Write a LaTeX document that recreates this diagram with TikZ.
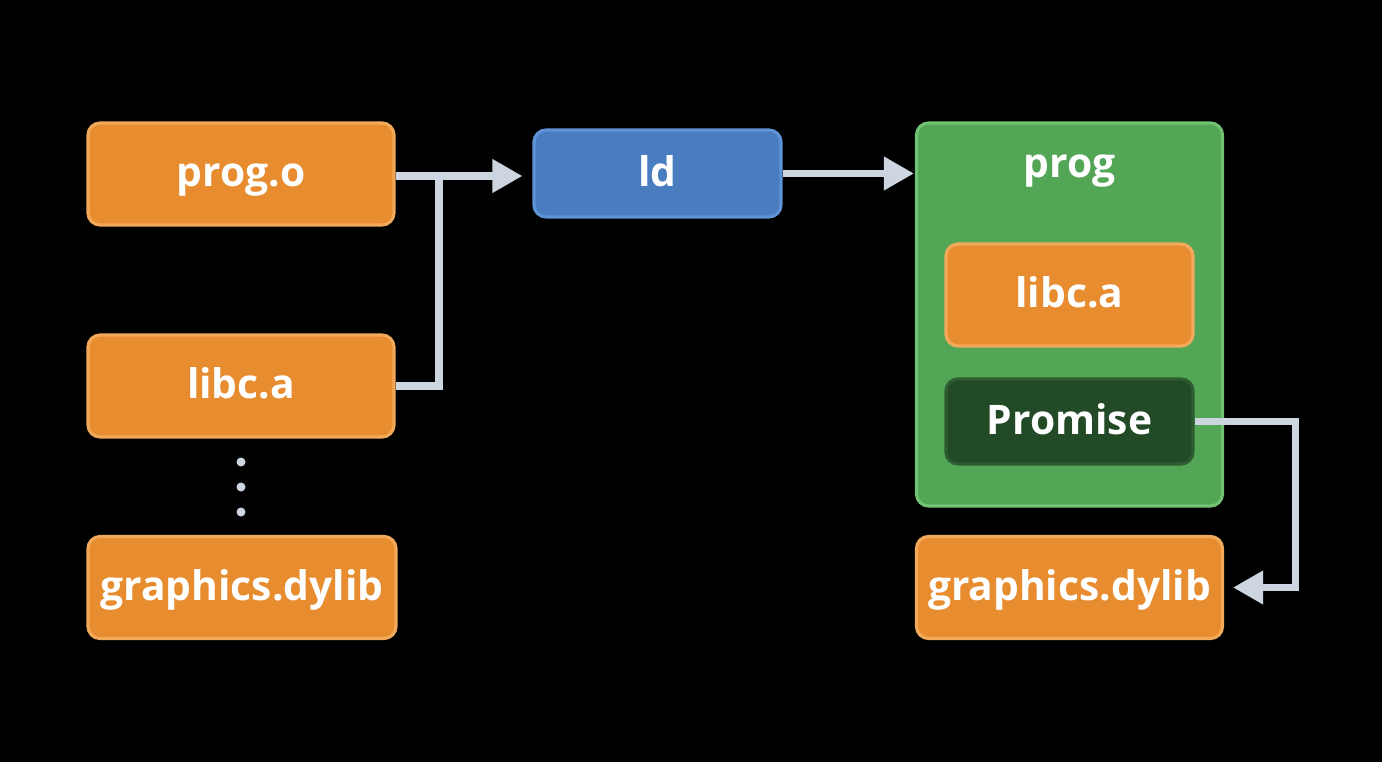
\documentclass[tikz,border=0pt]{standalone}
\usepackage{fontspec}
\setmainfont{Open Sans}
\usepackage{xcolor}
\usepackage{tikz}
\usetikzlibrary{calc, positioning, arrows.meta}

\definecolor{boxorange}{HTML}{E88C30}
\definecolor{edgeorange}{HTML}{F2A95A}
\definecolor{boxblue}{HTML}{4A7CC0}
\definecolor{edgeblue}{HTML}{5E93D6}
\definecolor{boxgreen}{HTML}{52A655}
\definecolor{edgegreen}{HTML}{72C274}
\definecolor{boxdark}{HTML}{234A26}
\definecolor{linkgray}{HTML}{CDD6E0}

\begin{document}
\begin{tikzpicture}[>={Triangle[length=0.3cm, width=0.32cm]},
    label font/.style={text=white, font=\bfseries\fontsize{11.6}{14}\selectfont},
    file/.style={label font, draw=edgeorange, fill=boxorange, line width=0.9pt, rounded corners=0.12cm,
        minimum width=3.06cm, minimum height=1.02cm, inner sep=1pt,
        text height=0.72em, text depth=0pt},
    tool/.style={file, draw=edgeblue, fill=boxblue, minimum width=2.47cm, minimum height=0.87cm},
    inner/.style={file, minimum width=2.47cm},
    link/.style={draw=linkgray, line width=2pt}]
    % Fond noir et dimensions de l'image
    \fill[black] (0,0) rectangle (13.82,-7.62);
    \useasboundingbox (0,0) rectangle (13.82,-7.62);

    % Entrées de l'éditeur de liens
    \node[file] (progo) at (2.41,-1.74) {prog.o};
    \node[file] (libcL) at (2.41,-3.86) {libc.a};
    \node[file, minimum width=3.08cm] (graphL) at (2.42,-5.875) {graphics.dylib};
    \foreach \y in {4.62, 4.87, 5.12}
        \fill[linkgray] (2.41,-\y) circle (0.045);

    % L'éditeur de liens
    \node[tool] (ld) at (6.575,-1.735) {ld};

    % Le programme produit
    \node[file, draw=edgegreen, fill=boxgreen, minimum height=3.83cm] (prog) at (10.695,-3.145) {};
    \node[label font, anchor=base] (progname) at (10.695,-1.77) {prog};
    \node[inner] (libcR) at (10.695,-2.95) {libc.a};
    \node[inner, draw=boxdark!80!boxgreen, fill=boxdark, minimum height=0.85cm] (promise) at (10.695,-4.215) {Promise};
    \node[file] (graphR) at (10.695,-5.875) {graphics.dylib};

    % Les liaisons
    \coordinate (jn) at (4.39,-1.76);
    \draw[link] (libcL.east) -| (jn);
    \draw[link, ->, shorten >=0.1cm] (progo.east |- jn) -- (ld.west |- jn);
    \draw[link, ->, shorten >=0.01cm] (ld.east) -- (ld.east -| prog.west);
    \draw[link, ->, shorten >=0.09cm] (promise.east) -- ++(1.01,0) |- (graphR.east);
\end{tikzpicture}
\end{document}
